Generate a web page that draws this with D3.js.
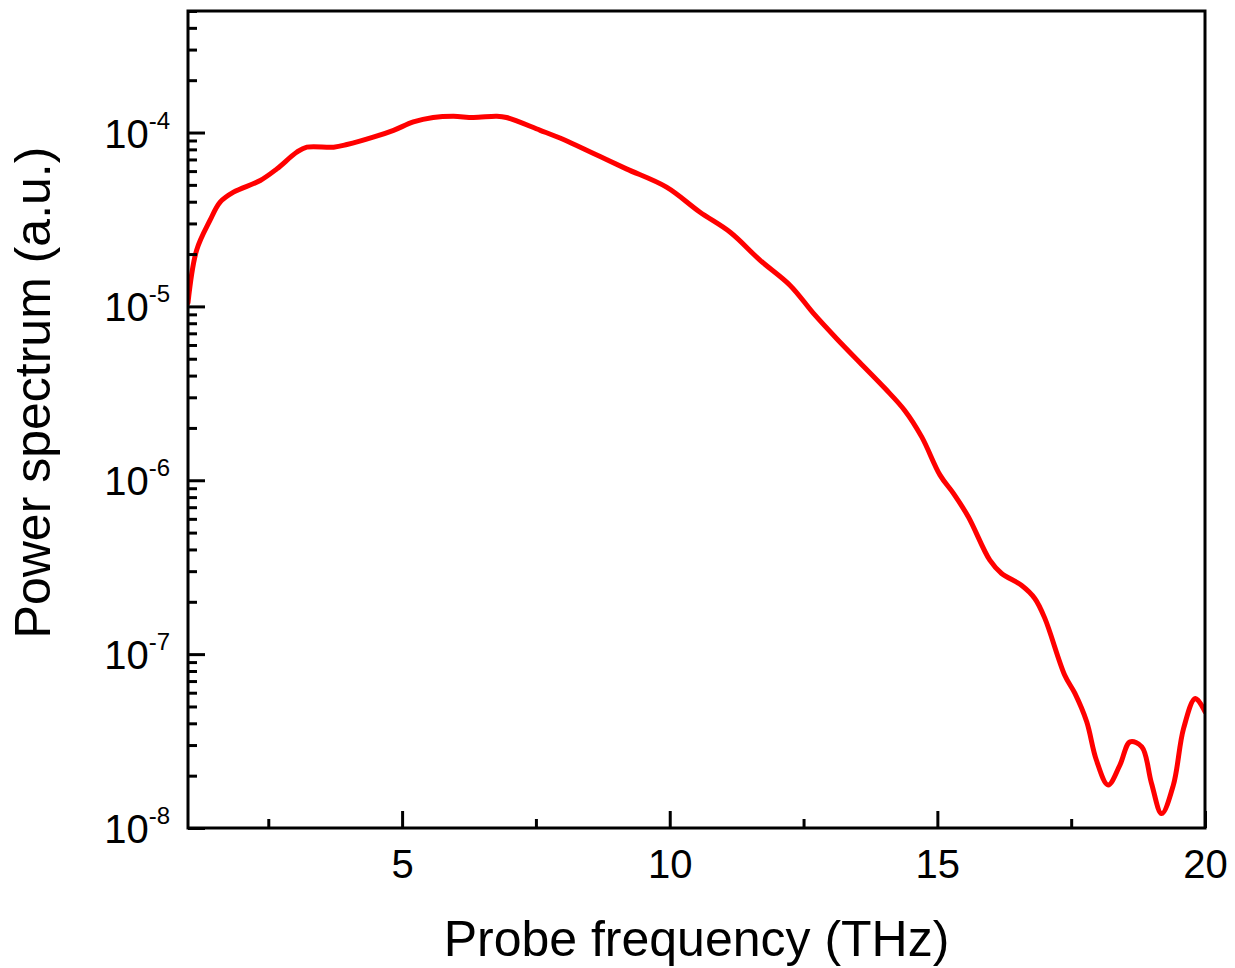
<!DOCTYPE html>
<html>
<head>
<meta charset="utf-8">
<script src="https://cdn.jsdelivr.net/npm/d3@7"></script>
<style>
  body { margin: 0; background: #fff; }
  svg text { font-family: "Liberation Sans", Arial, sans-serif; fill: #000; }
</style>
</head>
<body>
<svg id="chart" width="1235" height="968"></svg>
<script>
// values
var freq = [1.00, 1.16, 1.41, 1.60, 1.85, 2.35, 2.66, 3.03, 3.22, 3.72, 3.97, 4.46, 4.84, 5.21, 5.58, 5.96,
    6.33, 6.77, 6.95, 7.58, 7.95, 8.25, 8.70, 9.19, 9.94, 10.56, 11.13, 11.69, 12.25, 12.69, 13.12, 13.55,
    14.02, 14.39, 14.71, 15.05, 15.30, 15.58, 15.98, 16.20, 16.57, 16.82, 17.01, 17.38, 17.57, 17.79, 17.97,
    18.19, 18.41, 18.60, 18.82, 19.00, 19.19, 19.41, 19.60, 19.82, 20.00]
var power = [1.05e-5, 2.1e-5, 3.12e-5, 3.98e-5, 4.54e-5, 5.30e-5, 6.18e-5, 7.7e-5, 8.24e-5, 8.24e-5, 8.53e-5, 9.4e-5,
    1.03e-4, 1.15e-4, 1.22e-4, 1.24e-4, 1.22e-4, 1.24e-4, 1.22e-4, 1.03e-4, 9.3e-5, 8.45e-5, 7.28e-5, 6.18e-5,
    4.85e-5, 3.49e-5, 2.67e-5, 1.84e-5, 1.32e-5, 9.08e-6, 6.52e-6, 4.76e-6, 3.38e-6, 2.52e-6, 1.77e-6, 1.07e-6,
    8.4e-7, 6.15e-7, 3.47e-7, 2.91e-7, 2.49e-7, 2.09e-7, 1.60e-7, 7.56e-8, 5.94e-8, 4.08e-8, 2.46e-8, 1.77e-8,
    2.30e-8, 3.13e-8, 2.93e-8, 1.81e-8, 1.21e-8, 1.77e-8, 3.74e-8, 5.56e-8, 4.66e-8]

var xMajor = [5, 10, 15, 20]
var xMinor = [2.5, 7.5, 12.5, 17.5]
var yExponents = [-4, -5, -6, -7, -8]

var margin = { top: 11, right: 30, bottom: 140, left: 188 }
var width = 1235 - margin.left - margin.right
var height = 968 - margin.top - margin.bottom

var svg = d3.select("#chart")
var g = svg.append("g").attr("transform", "translate(" + margin.left + "," + margin.top + ")")

var x = d3.scaleLinear().domain([1, 20]).range([0, width])
var y = d3.scaleLog().domain([1e-8, 5e-4]).range([height, 0])

// minor log ticks 2..9 in every decade
var yMinor = []
for (var e = -8; e < -3; e++) {
    for (var m = 2; m <= 9; m++) {
        var v = m * Math.pow(10, e)
        if (v <= 5e-4) yMinor.push(v)
    }
}

g.append("defs").append("clipPath").attr("id", "clip")
    .append("rect").attr("width", width).attr("height", height)

var line = d3.line()
    .x(function(d) { return x(d[0]) })
    .y(function(d) { return y(d[1]) })
    .curve(d3.curveCatmullRom.alpha(0.5))

var pts = freq.map(function(f, i) { return [f, power[i]] })

g.append("path")
    .datum(pts)
    .attr("clip-path", "url(#clip)")
    .attr("fill", "none")
    .attr("stroke", "#ff0000")
    .attr("stroke-width", 5)
    .attr("stroke-linejoin", "round")
    .attr("stroke-linecap", "round")
    .attr("d", line)

// x axis, ticks pointing inward
var xAxisMinor = g.append("g").attr("transform", "translate(0," + height + ")")
    .call(d3.axisBottom(x).tickValues(xMinor).tickSize(-9).tickFormat(""))
var xAxis = g.append("g").attr("transform", "translate(0," + height + ")")
    .call(d3.axisBottom(x).tickValues(xMajor).tickSize(-17).tickFormat(d3.format("d")))
xAxis.selectAll("text")
    .attr("y", 50).attr("dy", 0)
    .style("font-size", "40px")
    .style("font-family", "'Liberation Sans', Arial, sans-serif")

// y axis
var yAxisMinor = g.append("g")
    .call(d3.axisLeft(y).tickValues(yMinor).tickSize(-9).tickFormat(""))
var yAxis = g.append("g")
    .call(d3.axisLeft(y).tickValues(yExponents.map(function(p) { return Math.pow(10, p) })).tickSize(-17).tickFormat(""))

g.selectAll(".tick line").attr("stroke", "#000").attr("stroke-width", 3)
g.selectAll(".domain").remove()

var yLabels = g.append("g")
yExponents.forEach(function(p) {
    var t = yLabels.append("text")
        .attr("x", -18)
        .attr("y", y(Math.pow(10, p)) + 15)
        .attr("text-anchor", "end")
    t.append("tspan").style("font-size", "40px").text("10")
    t.append("tspan").style("font-size", "24px").attr("dy", -19).text(p)
})

// frame
g.append("rect")
    .attr("width", width).attr("height", height)
    .attr("fill", "none").attr("stroke", "#000").attr("stroke-width", 3)

// axis titles
svg.append("text")
    .attr("x", margin.left + width / 2)
    .attr("y", 956)
    .attr("text-anchor", "middle")
    .style("font-size", "50px")
    .text("Probe frequency (THz)")

svg.append("text")
    .attr("transform", "translate(50," + (margin.top + height / 2 - 27) + ") rotate(-90)")
    .attr("text-anchor", "middle")
    .style("font-size", "50px")
    .text("Power spectrum (a.u.)")
</script>
</body>
</html>
